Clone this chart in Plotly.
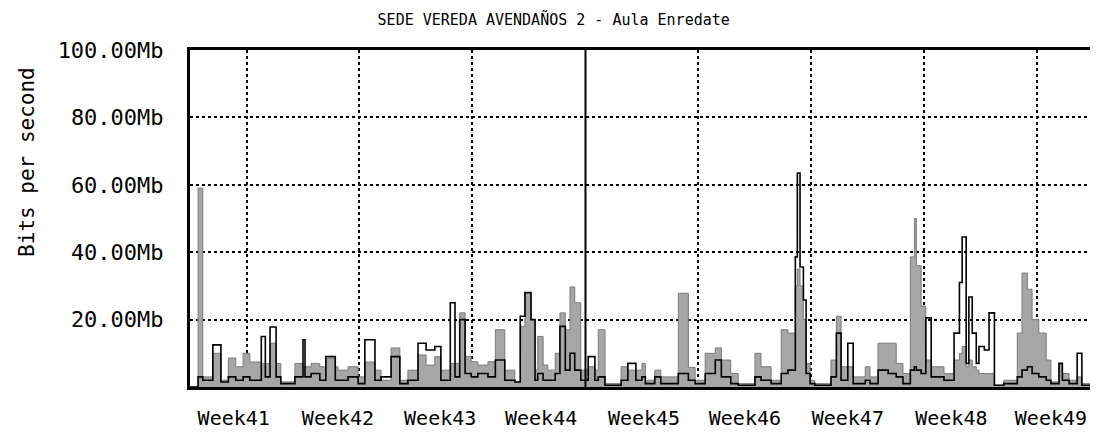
import plotly.graph_objects as go

# hours since start of the graph window
hours = [0, 12, 19, 34, 46, 57, 68, 79, 89, 106, 112, 119, 128, 135, 156, 168, 171, 180,
         193, 202, 216, 220, 235, 250, 260, 275, 284, 299, 312, 324, 339, 351, 364, 373,
         387, 394, 401, 409, 418, 428, 443, 454, 468, 483, 491, 498, 507, 513, 517, 525,
         532, 543, 550, 558, 565, 572, 581, 587, 592, 602, 607, 617, 641, 651, 663, 672,
         677, 691, 700, 726, 741, 751, 766, 781, 790, 804, 815, 840, 849, 864, 879, 889,
         900, 903, 907, 912, 916, 922, 929, 953, 961, 968, 978, 986, 1004, 1011, 1023,
         1038, 1050, 1060, 1071, 1077, 1080, 1087, 1094, 1102, 1121, 1136, 1144, 1148,
         1154, 1158, 1163, 1169, 1173, 1181, 1188, 1196, 1210, 1230, 1237, 1245, 1252,
         1262, 1273, 1280, 1292, 1297, 1307, 1319, 1326, 1350]

# Mb/s
bits_in = [0, 59, 3, 10, 2, 8.6, 6, 10, 7.4, 7, 7, 13, 7, 1.5, 7, 6, 6, 7,
           6, 8.5, 6, 5, 6, 3, 7.4, 5, 2, 11.6, 2, 5, 9.5, 6.5, 9, 5,
           7, 7, 22, 9, 7.5, 6.5, 7.5, 17, 5, 1.5, 18, 28, 20, 5, 15, 6.5,
           5, 10, 22, 17, 29.7, 25, 5, 5, 6, 5, 17, 1, 6, 5, 5, 7,
           2, 5, 3, 27.8, 5.8, 2, 10, 11.6, 8, 4, 1, 10, 6, 2, 17, 16,
           30, 35, 30, 20, 7, 2, 1, 8, 21, 6, 6, 3, 6, 3, 13,
           13, 7, 4, 38.6, 50, 36, 24, 8, 6, 4, 8, 10, 12,
           6, 8, 6, 5, 4, 4, 4, 0.5, 2, 16, 33.8, 29, 20,
           16, 8, 1.5, 7, 4, 2, 3, 1, 1]

bits_out = [0, 3, 2, 12.5, 1.5, 3, 2, 3, 2, 15, 3, 17.8, 3, 1, 3, 14, 3, 4,
            2, 9, 2, 2, 3, 1, 14, 2, 3, 9, 1, 2, 13, 11, 12, 2,
            25, 3, 20, 4, 3, 4, 3, 8, 2, 1.5, 21, 28, 20, 2, 4, 2,
            2, 4, 18, 5, 10, 5, 2, 2, 9, 2, 3, 0.5, 2, 7, 2, 3,
            1, 3, 1, 4, 2, 1, 4, 8, 3, 1, 0.5, 3, 2, 1, 4, 5,
            38.6, 63.5, 35.6, 25.8, 4, 1, 0.5, 3, 16, 2, 13, 1, 2, 1, 5,
            4, 3, 1, 5, 6, 5, 4, 20.5, 3, 2, 16, 31, 44.5,
            7, 26.7, 16, 7, 12, 11, 22, 0.5, 1, 3, 5, 6, 4,
            3, 2, 1, 7, 2, 1, 10, 0.5, 0.5]

grid_hours = [84, 252, 420, 756, 924, 1092, 1260]
marker_hour = 588
week_hours = [65, 220, 372, 522, 675, 825, 978, 1132, 1280]
week_labels = ['Week41', 'Week42', 'Week43', 'Week44', 'Week45',
               'Week46', 'Week47', 'Week48', 'Week49']
y_ticks = [20, 40, 60, 80, 100]
y_labels = ['20.00Mb', '40.00Mb', '60.00Mb', '80.00Mb', '100.00Mb']

MONO = 'DejaVu Sans Mono'

fig = go.Figure()

fig.add_trace(go.Scatter(
    x=hours, y=bits_in,
    mode='lines',
    line=dict(color='#7a7a7a', width=1, shape='hv'),
    fill='tozeroy',
    fillcolor='#a6a6a6',
    name='In',
    showlegend=False
))

fig.add_trace(go.Scatter(
    x=hours, y=bits_out,
    mode='lines',
    line=dict(color='black', width=1.6, shape='hv'),
    name='Out',
    showlegend=False
))

# linea vertical solida
fig.add_vline(x=marker_hour, line=dict(color='black', width=2))

# titulo del eje y, mas arriba que el centro
fig.add_annotation(
    text='Bits per second',
    textangle=-90,
    xref='paper', yref='paper',
    x=-0.1795, y=0.668,
    xanchor='center', yanchor='middle',
    showarrow=False,
    font=dict(family=MONO, size=21, color='black')
)

fig.update_layout(
    width=1098,
    height=432,
    plot_bgcolor='white',
    paper_bgcolor='white',
    margin=dict(l=182, r=8, t=42, b=53),
    title=dict(
        text='SEDE VEREDA AVENDAÑOS 2 - Aula Enredate',
        font=dict(family=MONO, size=15, color='black'),
        x=0.497, xanchor='center',
        y=0.972, yanchor='middle'
    ),
    xaxis=dict(
        range=[0, 1350],
        tickmode='array',
        tickvals=week_hours,
        ticktext=week_labels,
        ticks='',
        showgrid=False,
        zeroline=False,
        showline=True,
        linecolor='black',
        linewidth=2.5,
        mirror=True,
        tickfont=dict(family=MONO, size=20, color='black'),
        ticklabelstandoff=11,
        minor=dict(
            tickmode='array',
            tickvals=grid_hours,
            showgrid=True,
            gridcolor='black',
            gridwidth=1.5,
            griddash='dot',
            ticks=''
        )
    ),
    yaxis=dict(
        range=[0, 100],
        tickmode='array',
        tickvals=y_ticks,
        ticktext=y_labels,
        ticks='',
        showgrid=True,
        gridcolor='black',
        gridwidth=1.5,
        griddash='dot',
        zeroline=False,
        showline=True,
        linecolor='black',
        linewidth=3,
        tickfont=dict(family=MONO, size=22, color='black'),
        ticklabelstandoff=19
    )
)

fig.write_html("out.html")
